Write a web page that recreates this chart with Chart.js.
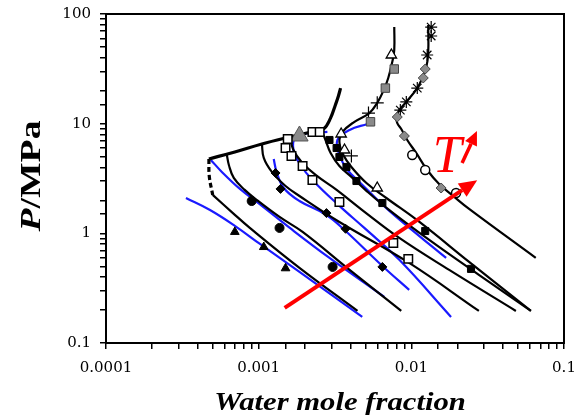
<!DOCTYPE html>
<html>
<head>
<meta charset="utf-8">
<script src="https://cdn.jsdelivr.net/npm/chart.js@4.4.0/dist/chart.umd.min.js"></script>
<style>
  html, body { margin: 0; padding: 0; background: #fff; }
  #wrap { width: 577px; height: 419px; }
</style>
</head>
<body>
<div id="wrap"><canvas id="chart"></canvas></div>
<script>
"use strict";
// labelled decades
const xTicks = [0.0001, 0.001, 0.01, 0.1];
const yTicks = [0.1, 1, 10, 100];

// model curves (black)
const envX = [4.72e-4, 6.98e-4, 1.05e-3, 1.6e-3, 2.22e-3, 2.66e-3, 2.96e-3, 3.18e-3, 3.33e-3, 3.44e-3];
const envY = [4.77, 5.52, 6.53, 7.56, 8.4, 8.95, 11.3, 14.8, 17.9, 21.1];
const c1DashX = [4.72e-4, 4.75e-4, 5.0e-4];
const c1DashY = [4.77, 3.3, 2.24];
const c1X = [5.0e-4, 6.78e-4, 8.75e-4, 1.85e-3, 4.44e-3];
const c1Y = [2.24, 1.53, 1.12, 0.484, 0.196];
const c2X = [6.19e-4, 6.38e-4, 6.87e-4, 8.1e-4, 9.73e-4, 1.37e-3, 1.94e-3, 3.94e-3, 8.59e-3];
const c2Y = [5.18, 4.2, 3.2, 2.49, 2.01, 1.41, 1.03, 0.464, 0.196];
const c3X = [1.05e-3, 1.08e-3, 1.22e-3, 1.5e-3, 1.85e-3, 3.38e-3, 9.68e-3, 0.0277];
const c3Y = [6.53, 4.87, 3.63, 2.7, 2.19, 1.27, 0.537, 0.196];
const c4X = [1.6e-3, 1.69e-3, 1.91e-3, 2.36e-3, 3.24e-3, 4.77e-3, 8.34e-3, 0.0177, 0.0484];
const c4Y = [7.56, 5.75, 4.48, 3.41, 2.49, 1.63, 0.908, 0.464, 0.196];
const innerX = [2.58e-3, 2.74e-3, 2.96e-3, 3.38e-3, 4.05e-3, 5.08e-3, 7.18e-3, 0.0131, 0.0277, 0.0607];
const innerY = [8.77, 7.1, 5.41, 4.11, 3.27, 2.44, 1.63, 0.871, 0.418, 0.196];
const outerX = [7.73e-3, 7.73e-3, 7.5e-3, 7.06e-3, 6.56e-3, 5.98e-3, 5.31e-3, 4.24e-3, 3.54e-3, 3.38e-3, 3.59e-3, 4.05e-3, 5.08e-3, 6.86e-3, 0.0113, 0.0239, 0.0607];
const outerY = [76, 47, 36.5, 26.1, 19.9, 15.5, 12.5, 10.4, 8.4, 6.81, 5.18, 4.03, 2.88, 2.1, 1.27, 0.549, 0.196];
const farX = [0.0129, 0.0129, 0.0125, 0.01178, 0.01094, 9.27e-3, 8.34e-3, 7.96e-3, 8.09e-3, 8.59e-3, 9.4e-3, 0.01076, 0.0127, 0.0152, 0.0191, 0.0239, 0.0653];
const farY = [79.4, 44.1, 32.2, 26.1, 21.1, 15.8, 13.3, 11.5, 10.1, 8.95, 7.1, 5.41, 3.78, 2.82, 2.15, 1.67, 0.597];

// second model (blue)
const b1X = [3.34e-4, 4.8e-4, 6.98e-4, 1.02e-3, 1.85e-3, 4.77e-3];
const b1Y = [2.1, 1.63, 1.17, 0.8, 0.445, 0.173];
const b2X = [4.86e-4, 5.74e-4, 7.54e-4, 1.05e-3, 1.6e-3, 2.91e-3, 6.65e-3];
const b2Y = [4.67, 3.63, 2.54, 1.78, 1.12, 0.597, 0.263];
const b3X = [1.255e-3, 1.31e-3, 1.46e-3, 1.85e-3, 2.78e-3, 3.71e-3, 6.46e-3, 9.68e-3];
const b3Y = [4.77, 3.63, 2.59, 1.97, 1.47, 1.05, 0.504, 0.305];
const b4X = [2.82e-3, 2.16e-3, 1.75e-3, 1.69e-3, 1.88e-3, 2.25e-3, 3.38e-3, 4.92e-3, 8.34e-3, 0.0182];
const b4Y = [8.4, 8.22, 7.56, 5.75, 4.2, 3.07, 1.78, 1.12, 0.573, 0.173];
const b5X = [5.15e-3, 3.94e-3, 3.28e-3, 3.38e-3, 3.82e-3, 4.57e-3, 7.18e-3, 0.0169];
const b5Y = [9.94, 8.77, 7.1, 5.18, 3.78, 2.94, 1.6, 0.597];

// experimental points
const triX = [6.98e-4, 1.08e-3, 1.5e-3];
const triY = [1.03, 0.75, 0.48];
const circX = [9.0e-4, 1.37e-3, 3.05e-3];
const circY = [1.97, 1.12, 0.494];
const diamX = [1.29e-3, 1.39e-3, 2.78e-3, 3.71e-3, 6.46e-3];
const diamY = [3.55, 2.54, 1.53, 1.1, 0.494];
const openSqX = [1.55e-3, 1.5e-3, 1.64e-3, 1.94e-3, 2.25e-3, 3.38e-3, 7.62e-3, 9.55e-3, 2.25e-3, 2.51e-3];
const openSqY = [7.26, 6.0, 5.08, 4.11, 3.07, 1.93, 0.817, 0.585, 8.4, 8.4];
const grayTriX = [1.85e-3];
const grayTriY = [7.72];
const blackSqX = [2.91e-3, 3.24e-3, 3.38e-3, 3.76e-3, 4.37e-3, 6.46e-3, 0.01233, 0.0246];
const blackSqY = [7.1, 6.0, 4.97, 4.03, 3.0, 1.89, 1.05, 0.474];
const graySqX = [7.73e-3, 6.76e-3, 5.4e-3];
const graySqY = [31.5, 21.1, 10.4];
const openTriX = [7.4e-3, 3.47e-3, 3.65e-3, 5.98e-3];
const openTriY = [42.3, 8.05, 5.75, 2.59];
const crossX = [5.98e-3, 5.24e-3, 4.05e-3];
const crossY = [15.5, 12.5, 5.08];
const grayDiamX = [0.01233, 0.01197, 8.09e-3, 9.0e-3, 0.01567];
const grayDiamY = [31.5, 26.1, 11.5, 7.72, 2.59];
const openCircX = [0.01014, 0.01233, 0.01963];
const openCircY = [5.18, 3.78, 2.33];
const starX = [0.01349, 0.01349, 0.0127, 0.01094, 9.27e-3, 8.47e-3];
const starY = [76, 63, 42.3, 21.1, 15.8, 13.3];

// annotation: temperature arrow
const arrowX = [1.48e-3, 0.027];
const arrowY = [0.209, 3.05];
const tArrowX = [0.0215, 0.0269];
const tArrowY = [4.38, 8.58];
const tLabelX = 0.0172;
const tLabelY = 4.87;

const BLUE = "#1a1aff";

function pts(xs, ys) {
    return xs.map((x, i) => ({ x: x, y: ys[i] }));
}

function curve(xs, ys, color, width, dash) {
    return {
        data: pts(xs, ys),
        showLine: true,
        borderColor: color,
        borderWidth: width,
        borderDash: dash || [],
        pointRadius: 0,
        tension: 0.4,
        fill: false,
        order: 2,
    };
}

function marks(xs, ys, style, radius, fillColor, lineColor, lineWidth) {
    return {
        data: pts(xs, ys),
        showLine: false,
        pointStyle: style,
        pointRadius: radius,
        backgroundColor: fillColor,
        borderColor: lineColor,
        borderWidth: lineWidth,
        order: 0,
    };
}

function isDecade(v) {
    let l = Math.log10(v);
    return Math.abs(l - Math.round(l)) < 1e-6;
}

function drawArrow(ctx, x0, y0, x1, y1, width, headLen, headW) {
    let ang = Math.atan2(y1 - y0, x1 - x0);
    let bx = x1 - headLen * Math.cos(ang);
    let by = y1 - headLen * Math.sin(ang);
    ctx.beginPath();
    ctx.moveTo(x0, y0);
    ctx.lineTo(bx, by);
    ctx.lineWidth = width;
    ctx.stroke();
    ctx.beginPath();
    ctx.moveTo(x1, y1);
    ctx.lineTo(bx + headW / 2 * Math.sin(ang), by - headW / 2 * Math.cos(ang));
    ctx.lineTo(bx - headW / 2 * Math.sin(ang), by + headW / 2 * Math.cos(ang));
    ctx.closePath();
    ctx.fill();
}

const decorations = {
    id: "decorations",
    afterDatasetsDraw(chart) {
        let ctx = chart.ctx;
        let xs = chart.scales.x;
        let ys = chart.scales.y;
        ctx.save();
        ctx.strokeStyle = "#ff0000";
        ctx.fillStyle = "#ff0000";
        drawArrow(ctx, xs.getPixelForValue(arrowX[0]), ys.getPixelForValue(arrowY[0]),
            xs.getPixelForValue(arrowX[1]), ys.getPixelForValue(arrowY[1]), 4, 18, 16);
        drawArrow(ctx, xs.getPixelForValue(tArrowX[0]), ys.getPixelForValue(tArrowY[0]),
            xs.getPixelForValue(tArrowX[1]), ys.getPixelForValue(tArrowY[1]), 3.5, 14, 13);
        ctx.font = "italic 52px 'Liberation Serif'";
        ctx.textAlign = "center";
        ctx.textBaseline = "middle";
        ctx.fillText("T", xs.getPixelForValue(tLabelX), ys.getPixelForValue(tLabelY));
        ctx.restore();
    },
    afterDraw(chart) {
        let ctx = chart.ctx;
        let a = chart.chartArea;
        ctx.save();
        ctx.strokeStyle = "#000";
        ctx.lineWidth = 2;
        ctx.strokeRect(a.left, a.top, a.right - a.left, a.bottom - a.top);

        // axis titles
        ctx.fillStyle = "#000";
        ctx.textBaseline = "middle";
        ctx.font = "bold italic 26px 'Liberation Serif'";
        ctx.save();
        ctx.translate(340, 403);
        ctx.scale(1.18, 1);
        ctx.textAlign = "center";
        ctx.fillText("Water mole fraction", 0, 0);
        ctx.restore();

        ctx.save();
        ctx.translate(33, 176);
        ctx.rotate(-Math.PI / 2);
        ctx.scale(1.3, 1);
        ctx.font = "bold italic 29px 'Liberation Serif'";
        let w1 = ctx.measureText("P").width;
        ctx.font = "bold 29px 'Liberation Serif'";
        let w2 = ctx.measureText("/MPa").width;
        let start = -(w1 + w2) / 2;
        ctx.textAlign = "left";
        ctx.font = "bold italic 29px 'Liberation Serif'";
        ctx.fillText("P", start, 0);
        ctx.font = "bold 29px 'Liberation Serif'";
        ctx.fillText("/MPa", start + w1, 0);
        ctx.restore();
        ctx.restore();
    },
};

function Start() {
    let ctx = document.getElementById("chart").getContext("2d");
    new Chart(ctx, {
        type: "scatter",
        data: {
            datasets: [
                marks(triX, triY, "triangle", 5, "#000", "#000", 1),
                marks(circX, circY, "circle", 4.5, "#000", "#000", 1),
                marks(diamX, diamY, "rectRot", 4.5, "#000", "#000", 1),
                marks(openSqX, openSqY, "rect", 6, "#fff", "#000", 1.5),
                marks(grayTriX, grayTriY, "triangle", 10, "#8a8a8a", "#555", 1),
                marks(blackSqX, blackSqY, "rect", 5, "#000", "#000", 1),
                marks(graySqX, graySqY, "rect", 6, "#8a8a8a", "#444", 1),
                marks(openTriX, openTriY, "triangle", 6, "#fff", "#000", 1.3),
                marks(crossX, crossY, "cross", 6.5, "#000", "#000", 1.2),
                marks(grayDiamX, grayDiamY, "rectRot", 5, "#8a8a8a", "#444", 1),
                marks(openCircX, openCircY, "circle", 4.5, "#fff", "#000", 1.5),
                marks(starX, starY, "star", 6, "#000", "#000", 1.2),
                curve(envX, envY, "#000", 3.2),
                curve(c1DashX, c1DashY, "#000", 3.2, [5, 3]),
                curve(c1X, c1Y, "#000", 2.2),
                curve(c2X, c2Y, "#000", 2.2),
                curve(c3X, c3Y, "#000", 2.2),
                curve(c4X, c4Y, "#000", 2.2),
                curve(innerX, innerY, "#000", 2.2),
                curve(outerX, outerY, "#000", 2.2),
                curve(farX, farY, "#000", 2.2),
                curve(b1X, b1Y, BLUE, 2.2),
                curve(b2X, b2Y, BLUE, 2.2),
                curve(b3X, b3Y, BLUE, 2.2),
                curve(b4X, b4Y, BLUE, 2.2),
                curve(b5X, b5Y, BLUE, 2.2),
            ],
        },
        options: {
            responsive: true,
            maintainAspectRatio: false,
            animation: false,
            layout: { padding: 0 },
            plugins: { legend: { display: false }, tooltip: { enabled: false } },
            scales: {
                x: {
                    type: "logarithmic",
                    min: 0.0001,
                    max: 0.1,
                    border: { color: "#000", width: 2 },
                    grid: { drawOnChartArea: false, drawTicks: true, tickLength: 6, color: "#000", lineWidth: 1.5 },
                    ticks: {
                        autoSkip: false,
                        maxRotation: 0,
                        padding: 10,
                        color: "#000",
                        font: { family: "DejaVu Serif", size: 15 },
                        callback: (v) => (isDecade(v) && xTicks.some((t) => Math.abs(t - v) / t < 1e-6)) ? String(v) : "",
                    },
                    afterFit: (s) => { s.height = 76; s.paddingRight = 13; s.paddingLeft = 0; },
                },
                y: {
                    type: "logarithmic",
                    min: 0.1,
                    max: 100,
                    border: { color: "#000", width: 2 },
                    grid: { drawOnChartArea: false, drawTicks: true, tickLength: 6, color: "#000", lineWidth: 1.5 },
                    ticks: {
                        autoSkip: false,
                        padding: 9,
                        color: "#000",
                        font: { family: "DejaVu Serif", size: 15 },
                        callback: (v) => (isDecade(v) && yTicks.some((t) => Math.abs(t - v) / t < 1e-6)) ? String(v) : "",
                    },
                    afterFit: (s) => { s.width = 106; s.paddingTop = 14; s.paddingBottom = 0; },
                },
            },
        },
        plugins: [decorations],
    });
}

window.addEventListener("load", Start);
</script>
</body>
</html>
